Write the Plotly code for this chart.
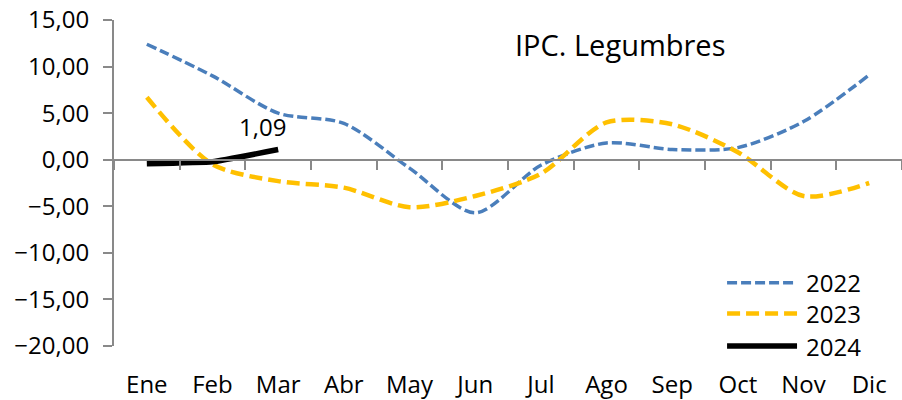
import plotly.graph_objects as go

months = ["Ene", "Feb", "Mar", "Abr", "May", "Jun", "Jul", "Ago", "Sep", "Oct", "Nov", "Dic"]
y2022 = [12.4, 9.0, 5.0, 3.9, -0.9, -5.7, -0.6, 1.8, 1.1, 1.3, 4.1, 9.1]
y2023 = [6.7, -0.5, -2.3, -3.0, -5.1, -3.9, -1.5, 4.0, 3.8, 0.8, -3.9, -2.5]
y2024 = [-0.43, -0.22, 1.09]
series_names = ["2022", "2023", "2024"]
title_text = "IPC. Legumbres"
y_ticks = [15, 10, 5, 0, -5, -10, -15, -20]

FONT = "Open Sans"
styles = {
    "2022": dict(color="#4A7EBB", width=3.5, dash="10px,4px"),
    "2023": dict(color="#FFC000", width=4.5, dash="13px,6px"),
    "2024": dict(color="#000000", width=5.5, dash="solid"),
}
smooth = {"2022": 0.8, "2023": 0.8, "2024": 0.3}

fig = go.Figure()
for name, ys in zip(series_names, [y2022, y2023, y2024]):
    fig.add_trace(go.Scatter(
        x=months[:len(ys)], y=ys, mode="lines", name=name,
        line=dict(shape="spline", smoothing=smooth[name], **styles[name]), showlegend=False,
    ))

# invisible trace for the axis drawn through zero
fig.add_trace(go.Scatter(x=months, y=[None] * len(months), xaxis="x2",
                         showlegend=False, hoverinfo="skip"))

# data label for last 2024 value
last = y2024[-1]
fig.add_annotation(x=months[len(y2024) - 1], y=last, text=f"{last:.2f}".replace(".", ","),
                   showarrow=False, xshift=-16, yshift=23,
                   font=dict(family=FONT, size=24, color="#000"))

# title
fig.add_annotation(x=0.642, y=0.926, xref="paper", yref="paper", text=title_text,
                   showarrow=False, font=dict(family=FONT, size=29, color="#000"),
                   xanchor="center", yanchor="middle")

# manual legend
leg_y = [0.194, 0.100, 0.0]
for name, ly in zip(series_names, leg_y):
    st = styles[name]
    fig.add_shape(type="line", xref="paper", yref="paper", x0=0.778, x1=0.8668, y0=ly, y1=ly,
                  line=dict(color=st["color"], width=st["width"], dash=st["dash"]))
    fig.add_annotation(x=0.8756, y=ly, xref="paper", yref="paper", text=name, showarrow=False,
                       xanchor="left", yanchor="middle",
                       font=dict(family=FONT, size=24, color="#000"))

axis_gray = "#898989"
fig.update_layout(
    width=902, height=400,
    margin=dict(l=114, r=0, t=20, b=54),
    paper_bgcolor="white", plot_bgcolor="white",
    separators=",.",
    font=dict(family=FONT, size=24, color="#000"),
    showlegend=False,
    xaxis=dict(type="category", categoryorder="array", categoryarray=months,
               range=[-0.5, 11.5], showline=False, showgrid=False, zeroline=False,
               ticks="", tickfont=dict(family=FONT, size=24, color="#000"),
               ticklabelstandoff=22),
    xaxis2=dict(overlaying="x", matches="x", anchor="free", position=20 / 35,
                showline=True, linecolor=axis_gray, linewidth=2,
                ticks="outside", ticklen=9, tickwidth=2, tickcolor=axis_gray,
                tickson="boundaries", showticklabels=False, showgrid=False, zeroline=False),
    yaxis=dict(range=[-20, 15], tickvals=y_ticks, tickformat=".2f",
               showline=True, linecolor=axis_gray, linewidth=2,
               ticks="outside", ticklen=9, tickwidth=2, tickcolor=axis_gray,
               showgrid=False, zeroline=False,
               tickfont=dict(family=FONT, size=24, color="#000"),
               ticklabelstandoff=9),
)

fig.write_html("out.html", config={"displayModeBar": False},
               post_script="document.body.style.margin='0px';")
